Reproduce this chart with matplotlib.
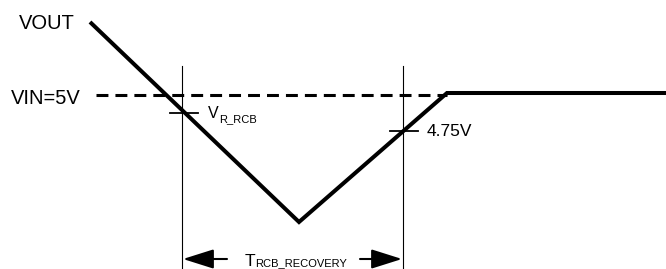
import matplotlib
matplotlib.use("Agg")
import matplotlib.pyplot as plt

# diagram in pixel coordinates (x right, y down)
VOUT_X = [90, 299, 447, 666]
VOUT_Y = [22, 222, 93, 93]
VIN_X = [96, 447]
VIN_Y = 95
MARK_X = [182, 403]
MARK_TOP = 66
TICK_X = [(170, 198), (390, 418)]
TICK_Y = [113, 131]
ARROW_Y = 259
ARROW_TAILS = [227, 360]

plt.rcParams['font.family'] = ['Liberation Sans', 'DejaVu Sans']

fig = plt.figure(figsize=(6.66, 2.69), dpi=100)
ax = fig.add_axes([0, 0, 1, 1])
ax.set_xlim(0, 666)
ax.set_ylim(269, 0)
ax.axis("off")

# VOUT trace
ax.plot(VOUT_X, VOUT_Y, color="k", lw=2.9, solid_joinstyle="miter", solid_capstyle="butt")
# VIN dashed level
ax.plot(VIN_X, [VIN_Y, VIN_Y], color="k", lw=2.2, ls=(0, (3.9, 2.3)))

# vertical markers
for x in MARK_X:
    ax.plot([x, x], [MARK_TOP, 269], color="k", lw=0.8)

# tick marks on crossing points
for (x0, x1), y in zip(TICK_X, TICK_Y):
    ax.plot([x0, x1], [y, y], color="k", lw=1.3)

# recovery arrows
for tip, tail in zip(MARK_X, ARROW_TAILS):
    ax.annotate("", xy=(tip + 1 if tip < 300 else tip - 1, ARROW_Y), xytext=(tail, ARROW_Y),
                arrowprops=dict(arrowstyle="-|>,head_length=1.9,head_width=0.6",
                                mutation_scale=10, lw=1.5, color="k",
                                shrinkA=0, shrinkB=0))

ax.text(19, 29, "VOUT", fontsize=14.5, va="baseline", ha="left")
ax.text(11, 104, "VIN=5V", fontsize=14.5, va="baseline", ha="left")
ax.text(208, 118, "V", fontsize=11.5, va="baseline", ha="left")
ax.text(219, 122, "R_RCB", fontsize=8, va="baseline", ha="left")
ax.text(427, 136, "4.75V", fontsize=12.5, va="baseline", ha="left")
ax.text(245, 266, "T", fontsize=12.5, va="baseline", ha="left")
ax.text(255, 266, "RCB_RECOVERY", fontsize=8, va="baseline", ha="left")

fig.savefig("out.png", dpi=100)
